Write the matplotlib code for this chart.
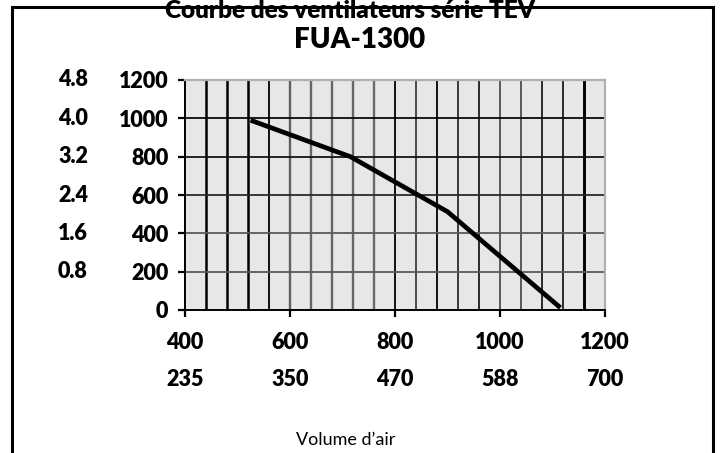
import matplotlib
matplotlib.use("Agg")
import matplotlib.pyplot as plt
from matplotlib.patches import Rectangle
import matplotlib.transforms as mtransforms

# ---- data ----
airflow = [525, 715, 900, 1115]          # volume d'air (x)
pressure = [990, 800, 513, 12]           # pression (y)
x_ticks = [400, 600, 800, 1000, 1200]
x_ticks_alt = ["235", "350", "470", "588", "700"]
y_ticks = [0, 200, 400, 600, 800, 1000, 1200]
y_ticks_alt_pos = [1200, 1000, 800, 600, 400, 200]
y_ticks_alt = ["4.8", "4.0", "3.2", "2.4", "1.6", "0.8"]
v_grid = list(range(440, 1200, 40))
title1 = "Courbe des ventilateurs série TEV"
title2 = "FUA-1300"
xlabel = "Volume d\u2019air"

# ---- styles ----
v_grid_styles = [
    ("#000000", 1.8), ("#000000", 1.8), ("#000000", 1.8), ("#111111", 1.4),
    ("#606060", 1.7), ("#666666", 1.7), ("#666666", 1.7), ("#666666", 1.7), ("#6a6a6a", 1.7),
    ("#111111", 1.4), ("#4a4a4a", 1.4), ("#111111", 1.4), ("#3a3a3a", 1.4), ("#2a2a2a", 1.4),
    ("#5a5a5a", 1.4), ("#5a5a5a", 1.4), ("#2a2a2a", 1.4), ("#2a2a2a", 1.4), ("#000000", 2.1),
]
h_grid_styles = {200: "#5a5a5a", 400: "#5a5a5a", 600: "#2a2a2a", 800: "#151515", 1000: "#0a0a0a"}

W, H = 721, 453
FONT = "Lato"
plt.rcParams["font.family"] = [FONT, "DejaVu Sans"]
LBL = 15.5

fig = plt.figure(figsize=(W / 100, H / 100), dpi=100)
fig.patch.set_facecolor("white")

L, R, T, B = 185, 605, 80, 310
ax = fig.add_axes([L / W, 1 - B / H, (R - L) / W, (B - T) / H])
ax.set_facecolor("#e6e7e9")
ax.set_xlim(400, 1200)
ax.set_ylim(0, 1200)

for xv, (c, lw) in zip(v_grid, v_grid_styles):
    ax.axvline(xv, color=c, lw=lw, zorder=1)
for yv, c in h_grid_styles.items():
    ax.axhline(yv, color=c, lw=1.3, zorder=1)

ax.plot(airflow, pressure, color="black", lw=3.4, solid_capstyle="butt",
        solid_joinstyle="miter", zorder=3)

for s in ["top", "right"]:
    ax.spines[s].set_color("#b0b0b0")
    ax.spines[s].set_linewidth(1.6)
for s in ["left", "bottom"]:
    ax.spines[s].set_color("black")
    ax.spines[s].set_linewidth(1.4)

ax.set_xticks(x_ticks)
ax.set_xticklabels([str(v) for v in x_ticks])
ax.set_yticks(y_ticks)
ax.set_yticklabels([str(v) for v in y_ticks])
ax.tick_params(axis="both", direction="out", length=5, width=1.6, color="black",
               labelsize=LBL)
ax.tick_params(axis="x", pad=11)
ax.tick_params(axis="y", pad=7)
for lab in ax.get_xticklabels() + ax.get_yticklabels():
    lab.set_fontweight("heavy")

# second row of x labels
trans_x = mtransforms.blended_transform_factory(ax.transData, fig.transFigure)
for xv, lab in zip(x_ticks, x_ticks_alt):
    ax.text(xv, 1 - 380 / H, lab, transform=trans_x, ha="center", va="center",
            fontsize=LBL, fontweight="heavy", clip_on=False)

# second column of y labels
trans_y = mtransforms.blended_transform_factory(fig.transFigure, ax.transData)
for yv, lab in zip(y_ticks_alt_pos, y_ticks_alt):
    ax.text(73 / W, yv, lab, transform=trans_y, ha="center", va="center",
            fontsize=LBL, fontweight="heavy", clip_on=False)

# frame
fig.patches.append(Rectangle((12 / W, -0.05), (713 - 12) / W, (H - 7) / H + 0.05,
                             transform=fig.transFigure, fill=False,
                             edgecolor="black", lw=2.2, zorder=0))

fig.text(350 / W, 1 - 18 / H, title1, ha="center", va="baseline",
         fontsize=17.5, fontweight="heavy")
fig.text(360 / W, 1 - 48.5 / H, title2, ha="center", va="baseline",
         fontsize=20, fontweight="heavy")
fig.text(346 / W, 1 - 440 / H, xlabel, ha="center", va="center", fontsize=13)

fig.savefig("out.png", dpi=100)
